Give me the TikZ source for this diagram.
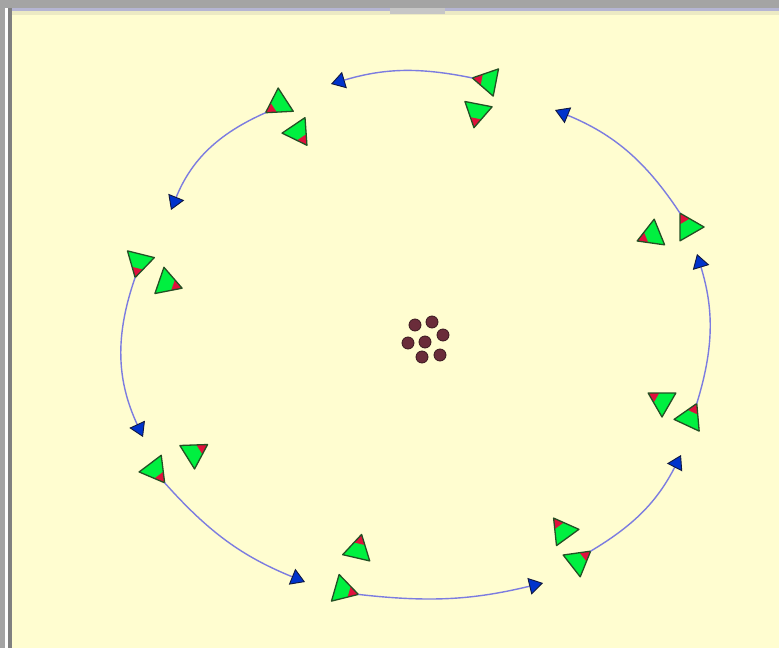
\documentclass[tikz,border=0pt]{standalone}
\usepackage{xcolor}
\usepackage{tikz}
\usetikzlibrary{arrows.meta,calc}
\definecolor{SIMcream}{HTML}{FFFDD0}
\definecolor{SIMgreen}{HTML}{00F040}
\definecolor{SIMred}{HTML}{E0103C}
\definecolor{SIMedge}{HTML}{245024}
\definecolor{SIMpath}{HTML}{7C7CE0}
\definecolor{SIMblue}{HTML}{0033CC}
\definecolor{SIMnavy}{HTML}{101840}
\definecolor{SIMbrown}{HTML}{6A2C3A}
\definecolor{SIMframe}{HTML}{A4A4A4}

\tikzset{
  trail/.style={draw=SIMpath, line width=1.4pt,
    -{Triangle[length=14pt,width=17pt,fill=SIMblue,color=SIMnavy,line width=0.9pt]}},
  crumb/.style={circle, fill=SIMbrown, draw=SIMbrown!55!black, line width=0.8pt,
    minimum size=12pt, inner sep=0pt},
  body/.style={fill=SIMgreen, draw=SIMedge, line width=1.3pt, line join=round},
}
% agent: name, x, y, heading (screen angle)
\newcommand{\agent}[4]{%
  \coordinate (#1) at (#2,#3);
  \coordinate (#1-tip) at ($(#1)+(#4:16)$);
  \coordinate (#1-l) at ($(#1)+(#4+120:16)$);
  \coordinate (#1-r) at ($(#1)+(#4-120:16)$);
  \fill[SIMgreen] (#1-tip) -- (#1-l) -- (#1-r) -- cycle;
  \fill[SIMred] (#1-tip) -- ($(#1-tip)!0.4!(#1-l)$) -- ($(#1-tip)!0.4!(#1-r)$) -- cycle;
  \draw[body, fill=none] (#1-tip) -- (#1-l) -- (#1-r) -- cycle;
}

\begin{document}
\begin{tikzpicture}[x=1pt,y=-1pt]
  \useasboundingbox (0,0) rectangle (779,648);
  \fill[SIMcream] (0,0) rectangle (779,648);
  % window frame
  \fill[SIMframe] (0,0) rectangle (779,8);
  \fill[SIMframe!80!blue!60!white] (0,8) rectangle (779,11);
  \fill[SIMcream!85!gray] (11,11) rectangle (779,15);
  \fill[gray!45] (390,8) rectangle (445,14);
  \fill[SIMframe] (0,0) rectangle (5,648);
  \fill[white] (5,8) rectangle (7.5,648);
  \fill[gray] (7.5,8) rectangle (11.5,648);

  % agents in pairs
  \agent{a1}{488}{81}{191}
  \agent{a2}{477}{112}{101}
  \agent{b1}{279}{104}{147}
  \agent{b2}{298}{132}{56}
  \agent{c1}{139}{262}{104}
  \agent{c2}{167}{283}{19}
  \agent{d1}{155}{470}{53}
  \agent{d2}{194}{453}{328}
  \agent{e1}{343}{590}{16}
  \agent{e2}{358}{550}{283}
  \agent{f1}{578}{561}{322}
  \agent{f2}{563}{531}{234}
  \agent{g1}{690}{418}{295}
  \agent{g2}{662}{401}{210}
  \agent{h1}{688}{227}{240}
  \agent{h2}{652}{235}{158}

  % path ends
  \coordinate (m1) at (331,84);
  \coordinate (m2) at (171,210);
  \coordinate (m3) at (143,437);
  \coordinate (m4) at (305,582);
  \coordinate (m5) at (543,583);
  \coordinate (m6) at (681,455);
  \coordinate (m7) at (697,254);
  \coordinate (m8) at (555,110);

  \draw[trail] (a1-tip) to[bend right=14] (m1);
  \draw[trail] (b1-tip) to[bend right=22] (m2);
  \draw[trail] (c1-tip) to[bend right=22] (m3);
  \draw[trail] (d1-tip) to[bend right=13] (m4);
  \draw[trail] (e1-tip) to[bend right=10] (m5);
  \draw[trail] (f1-tip) to[bend right=16] (m6);
  \draw[trail] (g1-tip) to[bend right=17] (m7);
  \draw[trail] (h1-tip) to[bend right=17] (m8);

  % food in the middle
  \node[crumb] (k1) at (415,325) {};
  \node[crumb] (k2) at (432,322) {};
  \node[crumb] (k3) at (443,335) {};
  \node[crumb] (k4) at (408,343) {};
  \node[crumb] (k5) at (425,342) {};
  \node[crumb] (k6) at (422,357) {};
  \node[crumb] (k7) at (440,355) {};
\end{tikzpicture}
\end{document}
